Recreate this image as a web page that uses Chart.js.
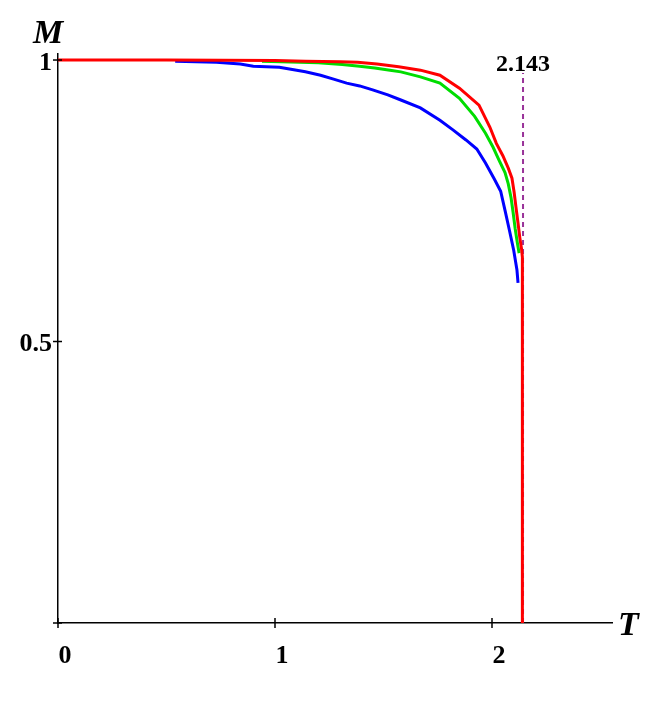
<!DOCTYPE html>
<html><head><meta charset="utf-8">
<script src="https://cdn.jsdelivr.net/npm/chart.js@4/dist/chart.umd.min.js"></script>
<style>html,body{margin:0;padding:0;background:#fff}#wrap{width:664px;height:703px;position:relative}</style>
</head><body><div id="wrap"><canvas id="c"></canvas></div>
<script>
const xTickValues = [0, 1, 2];
const yTickValues = [0.5, 1];
const yCrossTicks = [0, 0.5, 1];
const criticalT = 2.143;
const criticalLabel = "2.143";
const xAxisTitle = "T";
const yAxisTitle = "M";

const redT = [0, 0.5, 1.0, 1.14, 1.30, 1.38, 1.47, 1.57, 1.67, 1.76, 1.85, 1.94, 1.99, 2.02, 2.05, 2.075, 2.092, 2.102, 2.11, 2.12, 2.128, 2.136, 2.14, 2.14];
const redM = [1.0, 1.0, 0.999, 0.998, 0.997, 0.996, 0.993, 0.988, 0.982, 0.973, 0.950, 0.920, 0.881, 0.852, 0.830, 0.808, 0.79, 0.765, 0.74, 0.71, 0.685, 0.665, 0.65, 0];

const greenT = [0.94, 1.20, 1.31, 1.39, 1.46, 1.53, 1.58, 1.67, 1.76, 1.85, 1.92, 1.97, 2.005, 2.035, 2.06, 2.075, 2.088, 2.097, 2.107, 2.117, 2.125];
const greenM = [0.998, 0.995, 0.992, 0.989, 0.986, 0.982, 0.979, 0.970, 0.959, 0.932, 0.90, 0.870, 0.845, 0.82, 0.80, 0.78, 0.755, 0.73, 0.70, 0.675, 0.657];

const blueT = [0.54, 0.73, 0.84, 0.90, 1.02, 1.08, 1.14, 1.21, 1.27, 1.33, 1.39, 1.45, 1.52, 1.58, 1.67, 1.76, 1.82, 1.88, 1.93, 1.97, 2.01, 2.04, 2.06, 2.08, 2.10, 2.115, 2.12];
const blueM = [0.998, 0.996, 0.993, 0.989, 0.987, 0.983, 0.979, 0.973, 0.966, 0.959, 0.954, 0.947, 0.938, 0.929, 0.915, 0.893, 0.876, 0.858, 0.842, 0.817, 0.789, 0.767, 0.733, 0.698, 0.662, 0.627, 0.604];

const dashT = [criticalT, criticalT];
const dashM = [0, 0.977];

const pts = (xs, ys) => xs.map((x, i) => ({x: x, y: ys[i]}));
const serif = '"Liberation Serif", "DejaVu Serif", serif';

const overlay = {
  id: 'overlay',
  afterDraw(chart) {
    const ctx = chart.ctx, xs = chart.scales.x, ys = chart.scales.y;
    const y0 = ys.getPixelForValue(0), x0 = xs.getPixelForValue(0);
    ctx.save();
    ctx.strokeStyle = '#000'; ctx.lineWidth = 1.5;
    xTickValues.forEach(v => {
      const px = xs.getPixelForValue(v);
      ctx.beginPath(); ctx.moveTo(px, y0 - 5); ctx.lineTo(px, y0 + 5); ctx.stroke();
    });
    yCrossTicks.forEach(v => {
      const py = ys.getPixelForValue(v);
      ctx.beginPath(); ctx.moveTo(x0 - 5, py); ctx.lineTo(x0 + 4, py); ctx.stroke();
    });
    ctx.fillStyle = '#000';
    ctx.font = 'italic bold 34px ' + serif;
    ctx.textBaseline = 'alphabetic';
    ctx.textAlign = 'left';
    ctx.fillText(yAxisTitle, 33, 43);
    ctx.fillText(xAxisTitle, 618, 635);
    ctx.font = 'bold 24px ' + serif;
    ctx.textAlign = 'center';
    ctx.fillText(criticalLabel, xs.getPixelForValue(criticalT), 71);
    ctx.restore();
  }
};

new Chart(document.getElementById('c'), {
  type: 'scatter',
  data: {
    datasets: [
      {data: pts(redT, redM), borderColor: '#ff0000', borderWidth: 3},
      {data: pts(greenT, greenM), borderColor: '#00dd00', borderWidth: 3},
      {data: pts(blueT, blueM), borderColor: '#0000ff', borderWidth: 3},
      {data: pts(dashT, dashM), borderColor: '#993399', borderWidth: 2, borderDash: [5, 4]}
    ]
  },
  options: {
    responsive: true, maintainAspectRatio: false, animation: false,
    showLine: true,
    elements: {point: {radius: 0, hoverRadius: 0}, line: {tension: 0, fill: false}},
    layout: {padding: {left: 0, top: 54, right: 52, bottom: 0}},
    plugins: {legend: {display: false}, tooltip: {enabled: false}},
    scales: {
      x: {
        type: 'linear', min: 0, max: 2.553,
        afterFit(s) { s.height = 80; },
        afterBuildTicks(s) { s.ticks = xTickValues.map(v => ({value: v})); },
        grid: {display: false, drawTicks: false},
        border: {display: true, color: '#000', width: 1.5},
        ticks: {color: '#000', font: {family: serif, size: 26, weight: 'bold'}, padding: 18, labelOffset: 7, maxRotation: 0, autoSkip: false, callback: v => String(v)}
      },
      y: {
        type: 'linear', min: 0, max: 1.0107,
        afterFit(s) { s.width = 58; },
        afterBuildTicks(s) { s.ticks = yTickValues.map(v => ({value: v})); },
        grid: {display: false, drawTicks: false},
        border: {display: true, color: '#000', width: 1.5},
        ticks: {color: '#000', font: {family: serif, size: 26, weight: 'bold'}, padding: 6, labelOffset: 3, autoSkip: false, callback: v => String(v)}
      }
    }
  },
  plugins: [overlay]
});
</script></body></html>
